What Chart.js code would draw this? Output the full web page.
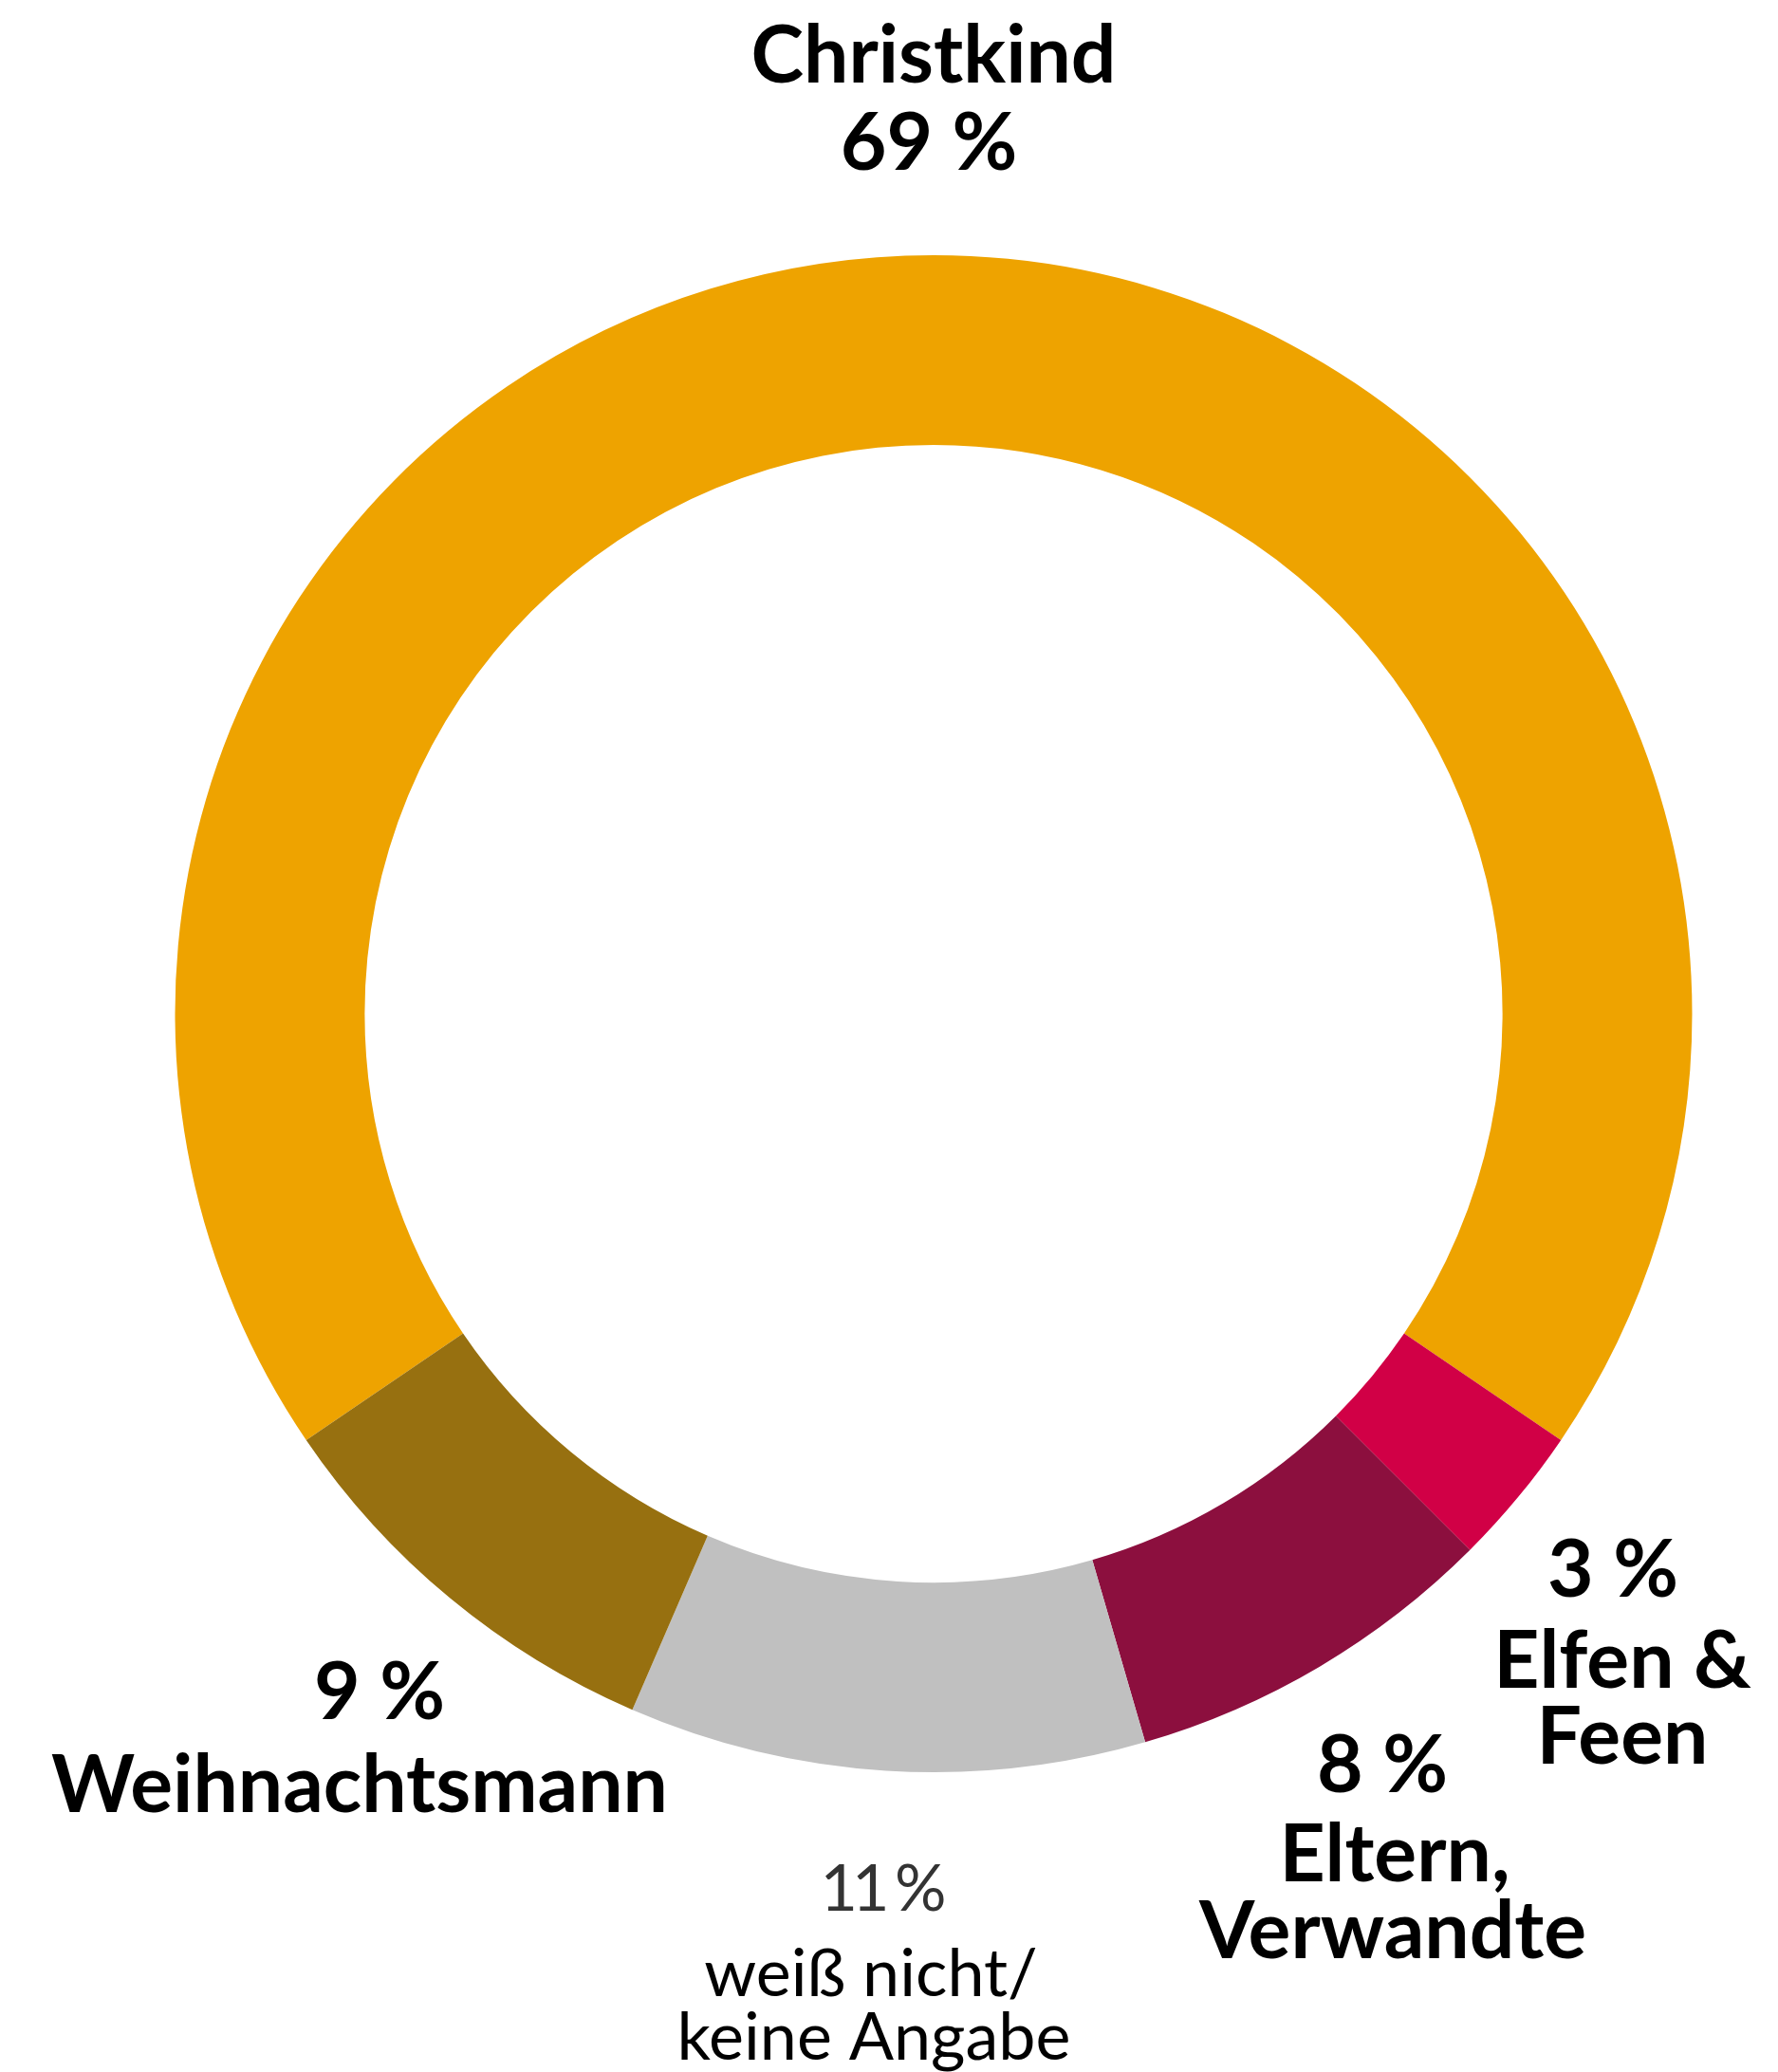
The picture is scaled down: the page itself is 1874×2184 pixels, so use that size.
<!DOCTYPE html>
<html lang="de">
<head>
<meta charset="utf-8">
<title>Wer bringt die Geschenke?</title>
<script src="https://cdn.jsdelivr.net/npm/chart.js@4.4.1/dist/chart.umd.min.js"></script>
<style>
  html, body { margin: 0; padding: 0; background: #fff; }
  #wrap { width: 1874px; height: 2184px; }
</style>
</head>
<body>
<div id="wrap"><canvas id="giftChart" width="1874" height="2184"></canvas></div>
<script>
// Data (clockwise, starting at the Christkind segment)
const categories = ["Christkind", "Elfen & Feen", "Eltern, Verwandte", "weiß nicht/keine Angabe", "Weihnachtsmann"];
const shares = [69, 3, 8, 11, 9];
const colors = ["#EEA300", "#D10046", "#8C0F3E", "#C0C0C0", "#977010"];

// label text, split into lines as in the original
const nameLines = [
    ["Christkind"],
    ["Elfen &", "Feen"],
    ["Eltern,", "Verwandte"],
    ["weiß nicht/", "keine Angabe"],
    ["Weihnachtsmann"]
];

// label placement, offsets in px from the doughnut centre
const labelLayout = [
    { bold: true,  pct: [-5, -890], name: [[0, -982]] },
    { bold: true,  pct: [716, 614], name: [[726, 710], [726, 790]] },
    { bold: true,  pct: [473, 820], name: [[486, 914], [484, 995]] },
    { bold: false, pct: [-53, 945], name: [[-66, 1035], [-63, 1102]] },
    { bold: true,  pct: [-584, 743], name: [[-605, 841]] }
];

const sliceLabels = {
    id: 'sliceLabels',
    afterDraw(chart) {
        const ctx = chart.ctx;
        const arc = chart.getDatasetMeta(0).data[0];
        const cx = arc.x, cy = arc.y;
        ctx.save();
        ctx.textAlign = 'center';
        ctx.textBaseline = 'alphabetic';
        labelLayout.forEach((l, i) => {
            const pctText = shares[i] + ' %';
            if (l.bold) {
                ctx.font = 'bold 84px Lato';
                ctx.fillStyle = '#000';
                ctx.fillText(pctText, cx + l.pct[0], cy + l.pct[1]);
            } else {
                // the small grey percentage is set a bit tighter in the original
                ctx.font = '68px Lato';
                ctx.fillStyle = '#333';
                ctx.letterSpacing = '-6px';
                ctx.fillText(pctText, cx + l.pct[0] - 3, cy + l.pct[1]);
                ctx.letterSpacing = '0px';
                ctx.font = '70px Lato';
            }
            ctx.fillStyle = '#000';
            nameLines[i].forEach((txt, j) => {
                ctx.fillText(txt, cx + l.name[j][0], cy + l.name[j][1]);
            });
        });
        ctx.restore();
    }
};

function draw() {
    const ctx = document.getElementById('giftChart').getContext('2d');
    new Chart(ctx, {
        type: 'doughnut',
        data: {
            labels: categories,
            datasets: [{
                data: shares,
                backgroundColor: colors,
                borderWidth: 0,
                hoverOffset: 0
            }]
        },
        options: {
            responsive: false,
            animation: false,
            cutout: '75%',
            rotation: -shares[0] * 360 / 100 / 2,
            layout: {
                padding: { left: 184, right: 90, top: 269, bottom: 316 }
            },
            plugins: {
                legend: { display: false },
                tooltip: { enabled: false }
            }
        },
        plugins: [sliceLabels]
    });
}

Promise.all([
    document.fonts.load('bold 84px Lato'),
    document.fonts.load('68px Lato')
]).then(draw, draw);
</script>
</body>
</html>
